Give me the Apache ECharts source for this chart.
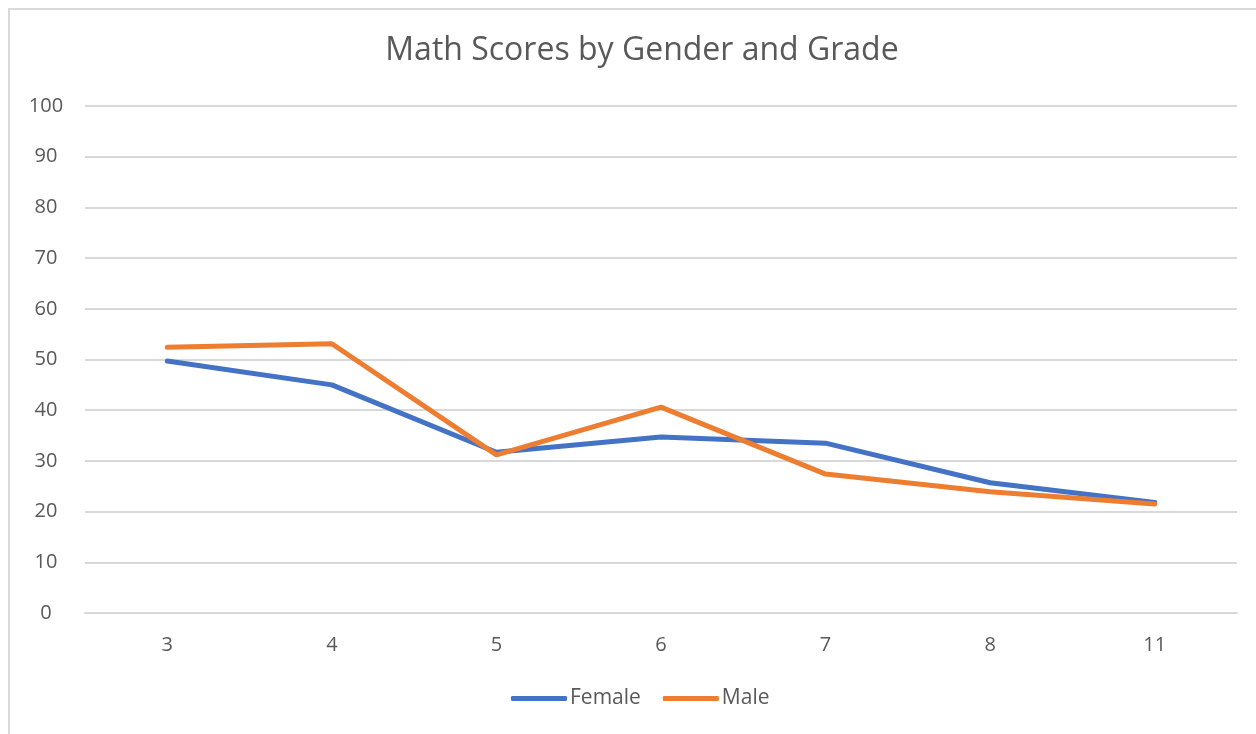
<!DOCTYPE html>
<html>
<head>
<meta charset="utf-8">
<title>Math Scores by Gender and Grade</title>
<script src="https://cdn.jsdelivr.net/npm/echarts@6/dist/echarts.min.js"></script>
<style>
  html, body { margin: 0; padding: 0; background: #fff; }
  #frame {
    position: absolute; left: 8px; top: 8px; width: 1260px; height: 740px;
    border-left: 2px solid #d9d9d9; border-top: 2px solid #d9d9d9;
  }
  #chart { position: absolute; left: 0; top: 0; width: 1256px; height: 734px; }
</style>
</head>
<body>
<div id="frame"></div>
<div id="chart"></div>
<script>
// grades on the x axis
const grades = ['3', '4', '5', '6', '7', '8', '11'];
// scores
const female = [49.7, 45.0, 31.7, 34.7, 33.5, 25.7, 21.8];
const male = [52.4, 53.1, 31.2, 40.6, 27.4, 23.9, 21.5];

const textColor = '#595959';
const font = '"Open Sans", sans-serif';

const myChart = echarts.init(document.getElementById('chart'));
const option = {
  animation: false,
  title: {
    text: 'Math Scores by Gender and Grade',
    left: 637,
    textAlign: 'center',
    top: 30,
    textStyle: { color: textColor, fontSize: 32, fontWeight: 'normal', fontFamily: font }
  },
  legend: {
    data: ['Female', 'Male'],
    left: 506,
    bottom: 20,
    icon: 'roundRect',
    itemWidth: 56,
    itemHeight: 5,
    itemGap: 22,
    textStyle: { color: textColor, fontSize: 21, fontFamily: font, padding: [0, 0, 0, -2] }
  },
  grid: { left: 85, right: 19, top: 106, bottom: 121 },
  xAxis: {
    type: 'category',
    data: grades,
    boundaryGap: true,
    axisLine: { lineStyle: { color: '#d9d9d9', width: 2 } },
    axisTick: { show: false },
    axisLabel: { color: textColor, fontSize: 20, fontFamily: font, margin: 22 }
  },
  yAxis: {
    type: 'value',
    min: 0,
    max: 100,
    interval: 10,
    axisLine: { show: false },
    axisTick: { show: false },
    splitLine: { lineStyle: { color: '#d9d9d9', width: 2 } },
    axisLabel: { color: textColor, fontSize: 20, fontFamily: font, margin: 39, align: 'center' }
  },
  series: [
    {
      name: 'Female',
      type: 'line',
      data: female,
      showSymbol: false,
      lineStyle: { color: '#4472c4', width: 5, cap: 'round', join: 'round' },
      itemStyle: { color: '#4472c4' }
    },
    {
      name: 'Male',
      type: 'line',
      data: male,
      showSymbol: false,
      lineStyle: { color: '#ed7d31', width: 5, cap: 'round', join: 'round' },
      itemStyle: { color: '#ed7d31' }
    }
  ]
};
myChart.setOption(option);
</script>
</body>
</html>
